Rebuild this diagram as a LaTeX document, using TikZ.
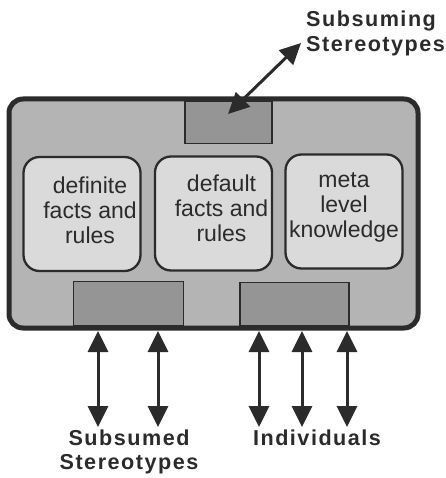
\documentclass[tikz,border=0pt]{standalone}
\usepackage{fontspec}
\setmainfont{Liberation Sans}
\newfontfamily\lblfont[LetterSpace=7]{Liberation Sans}
\usetikzlibrary{arrows.meta}
\definecolor{ink}{HTML}{2B2B2B}
\definecolor{outerfill}{HTML}{B4B4B4}
\definecolor{innerfill}{HTML}{DADADA}
\definecolor{portfill}{HTML}{959595}
\tikzset{
  outerbox/.style={draw=ink,fill=outerfill,line width=5pt,rounded corners=14pt,inner sep=0pt},
  kbox/.style={draw=ink,fill=innerfill,line width=2.3pt,rounded corners=16pt,inner sep=0pt,minimum width=117pt,minimum height=114pt},
  portbox/.style={draw=ink,fill=portfill,line width=1.6pt,inner sep=0pt},
  ktext/.style={align=center,font=\fontsize{23}{25}\selectfont,text=ink,inner sep=0pt},
  lbl/.style={font=\lblfont\bfseries\fontsize{21.6}{24.5}\selectfont,text=ink,inner sep=0pt},
  dbl/.style={draw=ink,line width=3pt,{Triangle[width=20pt,length=21pt]}-{Triangle[width=20pt,length=21pt]},shorten <=0pt,shorten >=0pt}
}
\begin{document}
\begin{tikzpicture}[x=1pt,y=-1pt]
\useasboundingbox (0,0) rectangle (445,478);
% outer box
\node[outerbox,minimum width=409pt,minimum height=229pt] (outer) at (213.5,213.5) {};
% ports
\node[portbox,minimum width=87pt,minimum height=42pt] (ptop) at (228.5,122.5) {};
\node[portbox,minimum width=110pt,minimum height=44pt] (pa) at (128.5,303.5) {};
\node[portbox,minimum width=109pt,minimum height=43pt] (pb) at (294.5,304) {};
% knowledge boxes
\node[kbox] (k1) at (82,214) {};
\node[kbox] (k2) at (213.5,213.5) {};
\node[kbox] (k3) at (344,211.5) {};
\node[ktext] (t1) at (90,210) {definite\\facts and\\rules};
\node[ktext] (t2) at (221.5,208) {default\\facts and\\rules};
\node[ktext] (t3) at (344,207) {meta\\level\\knowledge};
% labels
\node[lbl,align=left,anchor=north west] (sup) at (306,11) {Subsuming\\Stereotypes};
\node[lbl,align=center] (sub) at (129,452) {Subsumed\\Stereotypes};
\node[lbl] (ind) at (317,438) {Individuals};
% arrow ends
\coordinate (supend) at (301,43);
\coordinate (suptip) at (228,114);
\foreach \n/\x in {s1/98,s2/158,i1/259,i2/302,i3/347}{
  \coordinate (\n top) at (\x,331);
  \coordinate (\n bot) at (\x,427);
}
\draw[dbl] (suptip) -- (supend);
\foreach \n in {s1,s2,i1,i2,i3}{
  \draw[dbl] (\n top) -- (\n bot);
}
\end{tikzpicture}
\end{document}
